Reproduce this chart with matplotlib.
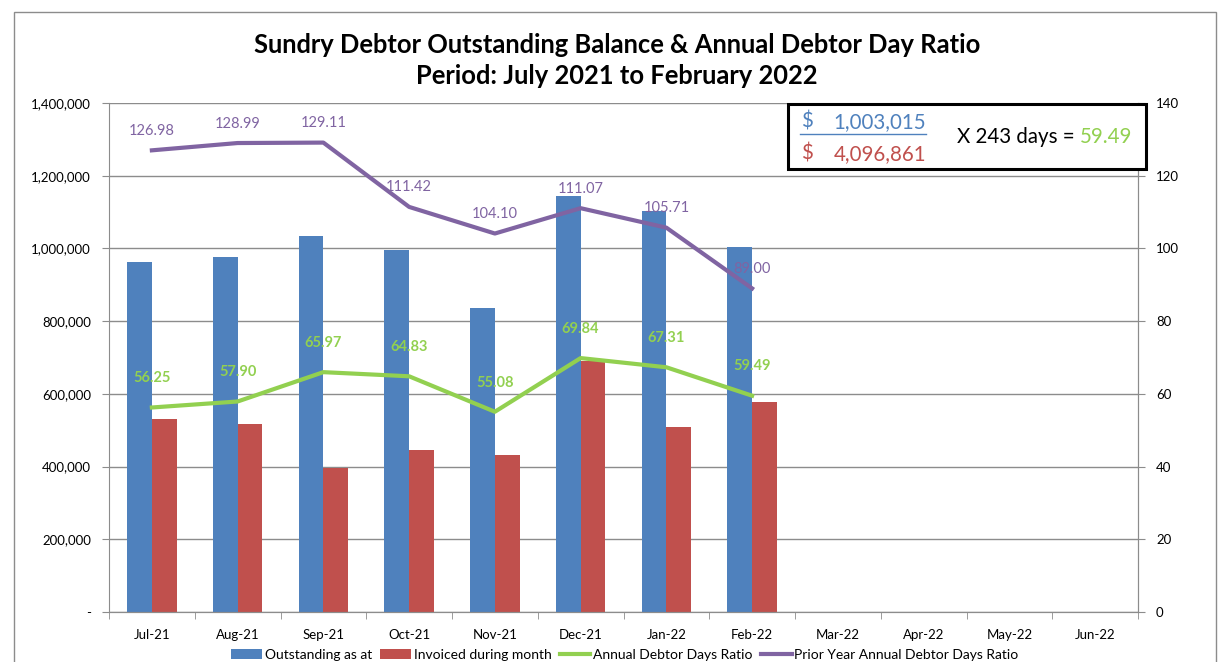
import matplotlib.pyplot as plt
import numpy as np
from matplotlib.patches import Rectangle
from matplotlib.lines import Line2D
from matplotlib.ticker import FuncFormatter

plt.rcParams['font.family'] = ['Lato', 'DejaVu Sans']

months = ['Jul-21', 'Aug-21', 'Sep-21', 'Oct-21', 'Nov-21', 'Dec-21',
          'Jan-22', 'Feb-22', 'Mar-22', 'Apr-22', 'May-22', 'Jun-22']
outstanding = [962000, 976000, 1034000, 996000, 836000, 1144000, 1103000, 1003015]
invoiced = [530000, 516000, 397000, 446000, 431000, 690000, 508000, 578861]
debtor_days = [56.25, 57.90, 65.97, 64.83, 55.08, 69.84, 67.31, 59.49]
prior_days = [126.98, 128.99, 129.11, 111.42, 104.10, 111.07, 105.71, 89.00]

blue = '#4F81BD'
red = '#C0504D'
green = '#92D050'
purple = '#8064A2'

fig = plt.figure(figsize=(12.18, 6.62), dpi=100)
ax = fig.add_axes([109 / 1218, 1 - 612 / 662, (1138 - 109) / 1218, (612 - 103) / 662])
ax2 = ax.twinx()

x = np.arange(len(months))
n = len(outstanding)
w = 0.29
ax.bar(x[:n] - w / 2, outstanding, w, color=blue, label='Outstanding as at', zorder=2)
ax.bar(x[:n] + w / 2, invoiced, w, color=red, label='Invoiced during month', zorder=2)

ax.set_xlim(-0.5, len(months) - 0.5)
ax.set_ylim(0, 1400000)
ax.set_yticks(np.arange(0, 1400001, 200000))
ax.yaxis.set_major_formatter(FuncFormatter(lambda v, p: '-' if v == 0 else f'{int(v):,}'))
ax.grid(axis='y', color='#8c8c8c', linewidth=1, zorder=0)
ax.set_axisbelow(True)
ax.set_xticks(x)
ax.set_xticklabels(months)
ax.set_xticks(np.arange(-0.5, len(months)), minor=True)
ax.tick_params(axis='x', which='major', length=0, pad=12, labelsize=9.5)
ax.tick_params(axis='x', which='minor', length=5, color='#8c8c8c')
ax.tick_params(axis='y', length=5, color='#8c8c8c', labelsize=9.5, pad=8)

ax2.plot(x[:n], debtor_days, color=green, linewidth=3, label='Annual Debtor Days Ratio', zorder=3)
ax2.plot(x[:n], prior_days, color=purple, linewidth=3, label='Prior Year Annual Debtor Days Ratio', zorder=3)
ax2.set_ylim(0, 140)
ax2.set_yticks(np.arange(0, 141, 20))
ax2.tick_params(axis='y', length=5, color='#8c8c8c', labelsize=9.5, pad=8)

for xi, v in zip(x[:n], debtor_days):
    ax2.annotate(f'{v:.2f}', (xi, v), xytext=(0, 16), textcoords='offset points',
                 ha='center', va='bottom', color=green, fontsize=10.5, fontweight='bold')
for xi, v in zip(x[:n], prior_days):
    ax2.annotate(f'{v:.2f}', (xi, v), xytext=(0, 9), textcoords='offset points',
                 ha='center', va='bottom', color=purple, fontsize=10.5)

for a in (ax, ax2):
    a.spines['top'].set_visible(False)
    for s in ('left', 'right', 'bottom'):
        a.spines[s].set_color('#8c8c8c')
ax2.spines['left'].set_visible(False)

fig.text(617 / 1218, 1 - 45 / 662, 'Sundry Debtor Outstanding Balance & Annual Debtor Day Ratio',
         ha='center', va='center', fontsize=18.4, fontweight='bold')
fig.text(617 / 1218, 1 - 76 / 662, 'Period: July 2021 to February 2022',
         ha='center', va='center', fontsize=18.4, fontweight='bold')

# formula box
fig.patches.append(Rectangle((788 / 1218, 1 - 169 / 662), (1146 - 788) / 1218, (169 - 104) / 662,
                             transform=fig.transFigure, facecolor='white', edgecolor='black',
                             linewidth=2.2, zorder=5))
fig.text(801 / 1218, 1 - 122 / 662, '$', color=blue, fontsize=14.8, va='center', zorder=6)
fig.text(926 / 1218, 1 - 122 / 662, f'{outstanding[-1]:,}', color=blue, fontsize=14.8,
         va='center', ha='right', zorder=6)
fig.lines.append(Line2D([800 / 1218, 926 / 1218], [1 - 134 / 662, 1 - 134 / 662],
                        transform=fig.transFigure, color=blue, linewidth=1, zorder=6))
fig.text(801 / 1218, 1 - 154 / 662, '$', color=red, fontsize=14.8, va='center', zorder=6)
fig.text(926 / 1218, 1 - 154 / 662, f'{sum(invoiced):,}', color=red, fontsize=14.8,
         va='center', ha='right', zorder=6)
fig.text(1075 / 1218, 1 - 137 / 662, 'X 243 days =', color='black', fontsize=14.8,
         va='center', ha='right', zorder=6)
fig.text(1132 / 1218, 1 - 137 / 662, f'{debtor_days[-1]:.2f}', color=green, fontsize=14.8,
         va='center', ha='right', zorder=6)

# outer chart border
fig.patches.append(Rectangle((14 / 1218, -0.01), (1216 - 14) / 1218, 1 - 12 / 662 + 0.01,
                             transform=fig.transFigure, fill=False, edgecolor='#8c8c8c',
                             linewidth=1))

h1, l1 = ax.get_legend_handles_labels()
h2, l2 = ax2.get_legend_handles_labels()
fig.legend(h1 + h2, l1 + l2, loc='center', bbox_to_anchor=(625 / 1218, 1 - 655 / 662), ncol=4,
           frameon=False, fontsize=10, handlelength=2.2, handletextpad=0.2, columnspacing=0.6)

fig.savefig('out.png', dpi=100)
